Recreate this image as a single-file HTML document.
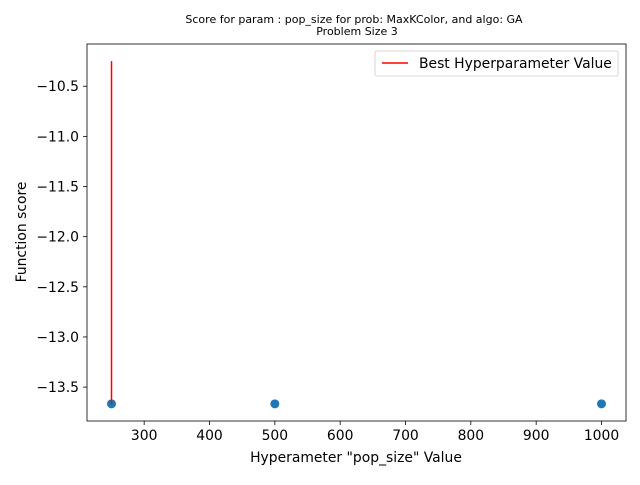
<!DOCTYPE html>
<html><head><meta charset="utf-8"><style>
body{margin:0;background:#fff;font-family:"Liberation Sans","DejaVu Sans",sans-serif}
svg text{font-family:"DejaVu Sans","Liberation Sans",sans-serif}
</style></head><body>
<svg id="c" width="640" height="480" viewBox="0 0 640 480"></svg>
<script>
const xCats = [250, 500, 1000];
const yVals = [-13.667, -13.667, -13.667];
const xTicks = [300, 400, 500, 600, 700, 800, 900, 1000];
const yTicks = [-10.5, -11.0, -11.5, -12.0, -12.5, -13.0, -13.5];
const bestX = [250];
const bestRange = [-13.667, -10.25];
const L=87,R=626,T=44,B=421;
const xMin=212.5,xMax=1037.5,yMin=-13.838,yMax=-10.079;
const sx=v=>L+(v-xMin)/(xMax-xMin)*(R-L);
const sy=v=>B-(v-yMin)/(yMax-yMin)*(B-T);
const svg=document.getElementById('c');
const NS='http://www.w3.org/2000/svg';
function mk(t,a,txt){const e=document.createElementNS(NS,t);for(const k in a)e.setAttribute(k,a[k]);if(txt!=null)e.textContent=txt;svg.appendChild(e);return e;}
let e;
e=mk('text',{x:354,y:23,'font-size':11,'text-anchor':'middle'},'Score for param : pop_size for prob: MaxKColor, and algo: GA');


e=mk('text',{x:357,y:35,'font-size':11,'text-anchor':'middle'},'Problem Size 3');


xTicks.forEach(v=>{const x=sx(v);
 e=mk('line',{x1:x,x2:x,y1:B,y2:B+4,stroke:'#000','stroke-width':0.8});
 
 
 e=mk('text',{x:x,y:B+19,'font-size':13.9,'text-anchor':'middle'},String(v));
 
 });
yTicks.forEach(v=>{const y=sy(v);
 e=mk('line',{x1:L-4,x2:L,y1:y,y2:y,stroke:'#000','stroke-width':0.8});
 
 
 e=mk('text',{x:L-8,y:y+5,'font-size':13.9,'text-anchor':'end'},'\u2212'+Math.abs(v).toFixed(1));
 
 });
xCats.forEach((v,i)=>{e=mk('circle',{cx:sx(v),cy:sy(yVals[i]),r:4.5,fill:'#1f77b4'});
 
 });
bestX.forEach(v=>{e=mk('line',{x1:sx(v),x2:sx(v),y1:sy(bestRange[0]),y2:sy(bestRange[1]),stroke:'#ff0000','stroke-width':1.5});
 
 });
e=mk('rect',{x:L,y:T,width:R-L,height:B-T,fill:'none',stroke:'#000','stroke-width':0.8});


e=mk('text',{x:356,y:462,'font-size':13.9,'text-anchor':'middle'},'Hyperameter "pop_size" Value');


e=mk('text',{x:0,y:0,'font-size':13.9,'text-anchor':'middle',transform:'translate(26,232) rotate(-90)'},'Function score');


e=mk('rect',{x:375,y:51,width:243,height:25,rx:2,fill:'#fff',stroke:'#ccc','stroke-width':0.8});


e=mk('line',{x1:382,x2:408,y1:63,y2:63,stroke:'#ff0000','stroke-width':1.5});


e=mk('text',{x:419,y:68,'font-size':13.9},'Best Hyperparameter Value');


</script>
</body></html>
